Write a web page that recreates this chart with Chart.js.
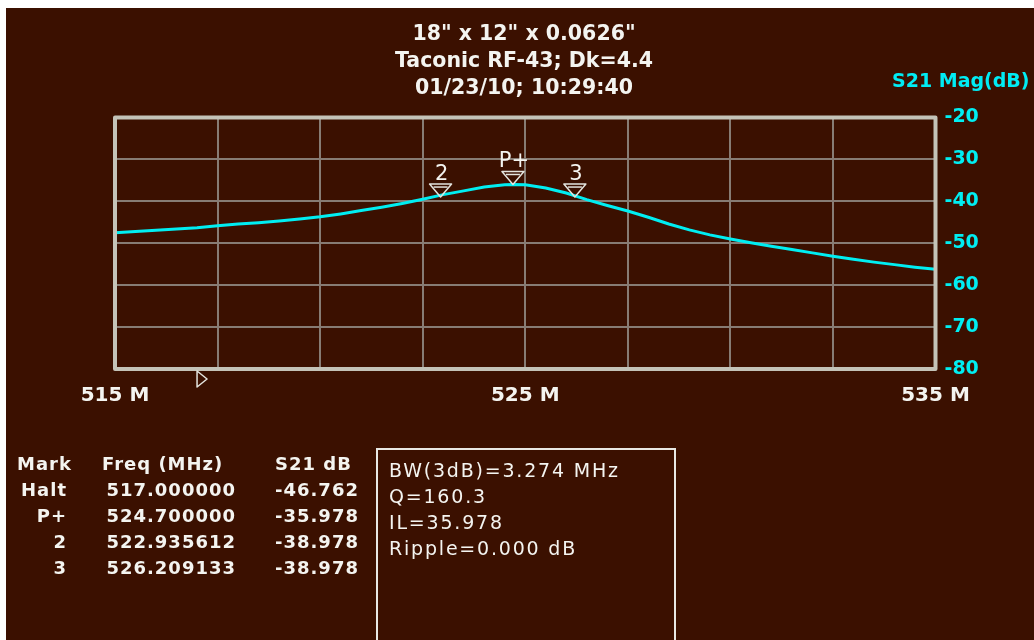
<!DOCTYPE html>
<html>
<head>
<meta charset="utf-8">
<script src="https://cdn.jsdelivr.net/npm/chart.js@4.4.1/dist/chart.umd.min.js"></script>
<style>
  html, body { margin: 0; padding: 0; background: #fff; width: 1034px; height: 640px; overflow: hidden; position: relative; font-family: "DejaVu Sans", sans-serif; }
  #screen { position: absolute; left: 6px; top: 8px; width: 1028px; height: 632px; background: #3b1000; }
  #screen canvas { position: absolute; left: 0; top: 0; }
  .txt { position: absolute; color: #f4f4f0; white-space: pre; }
  #title { left: 274px; top: 20px; width: 500px; text-align: center; font-weight: bold; font-size: 20.5px; line-height: 27px; }
  #ylabel { left: 892px; top: 70px; color: #00ecf4; font-weight: bold; font-size: 19px; line-height: 20px; }
  .col { top: 451px; font-weight: bold; font-size: 18px; line-height: 26px; letter-spacing: 1px; }
  .col div { text-align: right; }
  .col div.head { text-align: left; }
  #info { position: absolute; left: 376px; top: 448px; width: 300px; height: 200px; border: 2px solid #e8e8e4; padding: 7px 0 0 11px; box-sizing: border-box; color: #f4f4f0; font-size: 19px; line-height: 26px; letter-spacing: 1.8px; white-space: pre; }
</style>
</head>
<body>
<div id="screen"><canvas id="chart" width="1028" height="632"></canvas></div>
<div class="txt" id="title"></div>
<div class="txt" id="ylabel">S21 Mag(dB)</div>
<div class="txt col" id="colMark" style="left:17px;width:50px"></div>
<div class="txt col" id="colFreq" style="left:102px;width:134px"></div>
<div class="txt col" id="colDb" style="left:275px;width:81px"></div>
<div id="info"></div>
<script>
const TITLE_LINES = ['18" x 12" x 0.0626"', 'Taconic RF-43; Dk=4.4', '01/23/10; 10:29:40'];

// sweep
const FREQS = [515.0, 515.5, 516.0, 516.5, 517.0, 517.5, 518.0, 518.5, 519.0, 519.5,
  520.0, 520.5, 521.0, 521.5, 522.0, 522.5, 523.0, 523.5, 524.0, 524.5, 524.7,
  525.0, 525.5, 526.0, 526.5, 527.0, 527.5, 528.0, 528.5, 529.0, 529.5,
  530.0, 530.5, 531.0, 531.5, 532.0, 532.5, 533.0, 533.5, 534.0, 534.5, 535.0];
const S21_DB = [-47.5, -47.2, -46.9, -46.6, -46.3, -45.8, -45.4, -45.1, -44.7, -44.2,
  -43.7, -43.0, -42.2, -41.4, -40.5, -39.5, -38.4, -37.5, -36.6, -36.05, -35.98,
  -36.05, -36.8, -38.0, -39.6, -41.0, -42.3, -43.8, -45.4, -46.8, -48.0,
  -49.0, -49.9, -50.7, -51.5, -52.3, -53.1, -53.8, -54.5, -55.1, -55.7, -56.2];

const X_TICK_VALUES = [515, 525, 535];
const X_TICK_LABELS = ['515 M', '525 M', '535 M'];

const MARKER_NAMES = ['Halt', 'P+', '2', '3'];
const MARKER_FREQS = [517.0, 524.7, 522.935612, 526.209133];
const MARKER_DB = [-46.762, -35.978, -38.978, -38.978];

const INFO_LINES = ['BW(3dB)=3.274 MHz', 'Q=160.3', 'IL=35.978', 'Ripple=0.000 dB'];

document.getElementById('title').textContent = TITLE_LINES.join('\n');
document.getElementById('info').textContent = INFO_LINES.join('\n');

function fillColumn(id, head, values) {
  const col = document.getElementById(id);
  const h = document.createElement('div');
  h.className = 'head';
  h.textContent = head;
  col.appendChild(h);
  values.forEach((v) => {
    const d = document.createElement('div');
    d.textContent = v;
    col.appendChild(d);
  });
}
fillColumn('colMark', 'Mark', MARKER_NAMES);
fillColumn('colFreq', 'Freq (MHz)', MARKER_FREQS.map((f) => f.toFixed(6)));
fillColumn('colDb', 'S21 dB', MARKER_DB.map((v) => v.toFixed(3)));

const FRAME = '#c4c3b8';
const GRID = '#877c74';
const TRACE = '#00eef2';

const framePlugin = {
  id: 'frameAndMarkers',
  afterDatasetsDraw(chart) {
    const { ctx, chartArea: a, scales: { x, y } } = chart;
    ctx.save();
    ctx.strokeStyle = FRAME;
    ctx.lineWidth = 4;
    ctx.lineJoin = 'round';
    ctx.strokeRect(a.left, a.top, a.right - a.left, a.bottom - a.top);

    ctx.strokeStyle = '#e4e4de';
    ctx.fillStyle = '#f4f4f0';
    ctx.lineWidth = 1.5;
    ctx.font = '21px "DejaVu Sans"';
    ctx.textAlign = 'center';
    ctx.textBaseline = 'alphabetic';
    MARKER_NAMES.forEach((name, i) => {
      const px = x.getPixelForValue(MARKER_FREQS[i]);
      if (name === 'Halt') {
        const t = a.bottom + 2;
        ctx.beginPath();
        ctx.moveTo(px, t);
        ctx.lineTo(px + 10, t + 8);
        ctx.lineTo(px, t + 16);
        ctx.closePath();
        ctx.stroke();
        return;
      }
      const py = y.getPixelForValue(MARKER_DB[i]);
      const t = py - 13;
      ctx.beginPath();
      ctx.moveTo(px - 11, t);
      ctx.lineTo(px + 11, t);
      ctx.lineTo(px, py);
      ctx.closePath();
      ctx.stroke();
      ctx.beginPath();
      ctx.moveTo(px - 7, t + 3);
      ctx.lineTo(px + 7, t + 3);
      ctx.stroke();
      ctx.fillText(name, px + 1, t - 4);
    });
    ctx.restore();
  },
};

new Chart(document.getElementById('chart'), {
  type: 'line',
  data: {
    datasets: [
      {
        data: FREQS.map((f, i) => ({ x: f, y: S21_DB[i] })),
        borderColor: TRACE,
        borderWidth: 3,
        pointRadius: 0,
        tension: 0,
      },
    ],
  },
  options: {
    responsive: false,
    animation: false,
    layout: { padding: { left: 109, top: 109.5, right: 0, bottom: 0 } },
    plugins: { legend: { display: false }, tooltip: { enabled: false } },
    scales: {
      x: {
        type: 'linear',
        min: 515,
        max: 535,
        afterFit: (scale) => { scale.height = 271; },
        border: { display: false },
        grid: { color: GRID, lineWidth: 2, drawTicks: false },
        ticks: {
          stepSize: 2.5,
          maxRotation: 0,
          autoSkip: false,
          padding: 15,
          color: '#f4f4f0',
          font: { family: 'DejaVu Sans', size: 20, weight: 'bold' },
          callback: (value) => {
            const i = X_TICK_VALUES.indexOf(value);
            return i >= 0 ? X_TICK_LABELS[i] : '';
          },
        },
      },
      y: {
        position: 'right',
        min: -80,
        max: -20,
        afterFit: (scale) => { scale.width = 98.5; },
        border: { display: false },
        grid: { color: GRID, lineWidth: 2, drawTicks: false },
        ticks: {
          stepSize: 10,
          padding: 9,
          color: '#00eef2',
          font: { family: 'DejaVu Sans', size: 19, weight: 'bold' },
        },
      },
    },
  },
  plugins: [framePlugin],
});
</script>
</body>
</html>
